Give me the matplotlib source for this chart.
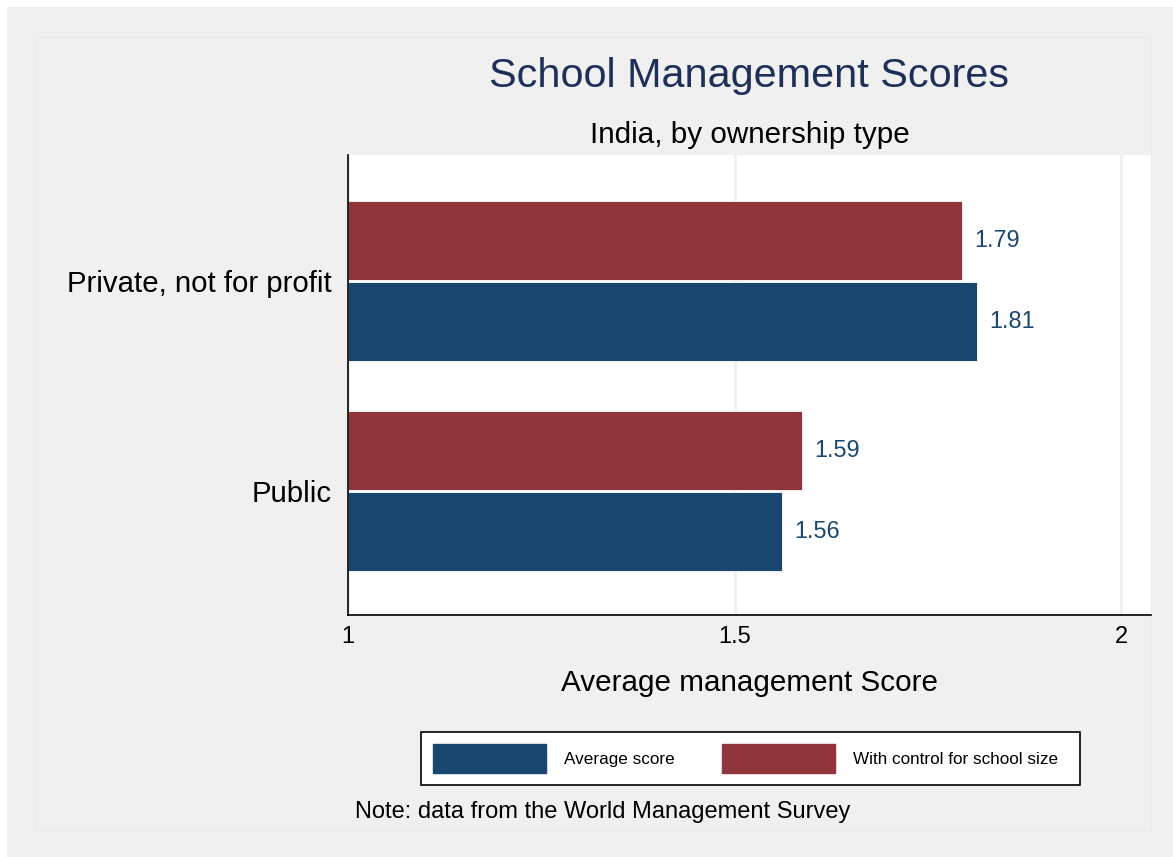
import matplotlib
matplotlib.use("Agg")
import matplotlib.pyplot as plt
from matplotlib.patches import Rectangle, Patch
import numpy as np

plt.rcParams['font.family'] = ['Liberation Sans', 'DejaVu Sans']

categories = ["Public", "Private, not for profit"]
avg_score = [1.561, 1.814]
with_control = [1.587, 1.794]
series_labels = ["Average score", "With control for school size"]
xticks = [1, 1.5, 2]
xtick_labels = ["1", "1.5", "2"]

BLUE = "#1a476f"
RED = "#90353b"
BG = "#f0f0f0"

W, H = 1173, 857
fig = plt.figure(figsize=(W / 100, H / 100), dpi=100, facecolor="white")

def fx(px):
    return px / W

def fy(py):
    return 1 - py / H

# outer grey background
fig.patches.append(Rectangle((fx(7), 0), 1 - fx(7), fy(7), transform=fig.transFigure,
                             facecolor=BG, edgecolor="none", zorder=-10))
# inner panel
fig.patches.append(Rectangle((fx(36), fy(831)), fx(1151) - fx(36), fy(37) - fy(831),
                             transform=fig.transFigure, facecolor=BG,
                             edgecolor="#e6eeee", linewidth=1.0, zorder=-9))

ax = fig.add_axes([fx(348), fy(615), fx(1151) - fx(348), fy(155) - fy(615)])
ax.set_facecolor("white")

y = np.arange(len(categories))
h = 0.376
off = 0.193
ax.barh(y - off, np.array(avg_score) - 1, left=1, height=h, color=BLUE, edgecolor="white", linewidth=0.6)
ax.barh(y + off, np.array(with_control) - 1, left=1, height=h, color=RED, edgecolor="white", linewidth=0.6)

for yy, v in zip(y - off, avg_score):
    ax.text(v + 0.016, yy, f"{v:.2f}", va="center", ha="left", color=BLUE, fontsize=16.9)
for yy, v in zip(y + off, with_control):
    ax.text(v + 0.016, yy, f"{v:.2f}", va="center", ha="left", color=BLUE, fontsize=16.9)

ax.set_xlim(1, 2.0388)
ax.set_ylim(-0.59, 1.6)
ax.set_xticks(xticks)
ax.set_xticklabels(xtick_labels, fontsize=17)
ax.set_yticks(y)
ax.set_yticklabels(categories, fontsize=21.2)
ax.tick_params(axis="both", length=0)
ax.tick_params(axis="x", pad=8)
ax.tick_params(axis="y", pad=12)
ax.grid(axis="x", color="#eaf2f3", linewidth=2)
ax.set_axisbelow(True)
for s in ["top", "right"]:
    ax.spines[s].set_visible(False)
for s in ["left", "bottom"]:
    ax.spines[s].set_color("black")
    ax.spines[s].set_linewidth(1.2)

ax.set_xlabel("Average management Score", fontsize=21.3, labelpad=15)

fig.text(fx(749), fy(76), "School Management Scores", ha="center", va="center",
         fontsize=29.8, color="#1e2f5a")
fig.text(fx(750), fy(135), "India, by ownership type", ha="center", va="center",
         fontsize=21.3, color="black")

handles = [Patch(facecolor=BLUE, edgecolor=BLUE), Patch(facecolor=RED, edgecolor=RED)]
leg = fig.legend(handles, [series_labels[0], series_labels[1] + "  "], loc="center",
                 bbox_to_anchor=(fx(750.5), fy(758.5)),
                 ncol=2, fontsize=12.3, frameon=True, fancybox=False, edgecolor="black",
                 handlelength=6.6, handleheight=2.25, handletextpad=1.05, columnspacing=2.8,
                 borderpad=0.72, framealpha=1)
leg.get_frame().set_linewidth(1.2)
leg.get_frame().set_facecolor("white")

fig.text(fx(355), fy(812), "Note: data from the World Management Survey", ha="left", va="center",
         fontsize=17.0, color="black")

fig.savefig("out.png", dpi=100, facecolor=fig.get_facecolor())
